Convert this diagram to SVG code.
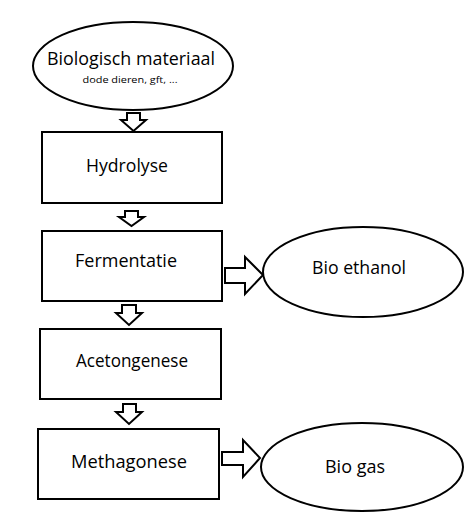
<svg xmlns="http://www.w3.org/2000/svg" width="475" height="519" viewBox="0 0 475 519">
<style>
.box{fill:#fff;stroke:#000;stroke-width:2}
.ell{fill:#fff;stroke:#000;stroke-width:2}
.arr{fill:#fff;stroke:#000;stroke-width:2;stroke-linejoin:miter}
text{font-family:"Open Sans","Liberation Sans",sans-serif;fill:#000}
.t{font-size:17.5px}
.s{font-size:9.5px}
</style>
<rect width="475" height="519" fill="#fff"/>
<g id="connectors">
<polygon class="arr" points="127,113 140,113 140,120 146,120 133.5,131 121,120 127,120"/>
<polygon class="arr" points="125,211 138,211 138,217 144,217 131.5,226 119,217 125,217"/>
<polygon class="arr" points="122,305 136,305 136,313 142,313 129,325 116,313 122,313"/>
<polygon class="arr" points="123,404 136,404 136,412 142,412 129,424 116,412 123,412"/>
<polygon class="arr" points="225,268 245,268 245,257 263,275 245,294 245,283 225,283"/>
<polygon class="arr" points="222,452 243,452 243,440 260,458 243,477 243,465 222,465"/>
</g>
<g id="n-bio">
<ellipse class="ell" cx="133" cy="66" rx="100" ry="44"/>
<text class="t" x="131" y="65" text-anchor="middle" textLength="168" lengthAdjust="spacingAndGlyphs">Biologisch materiaal</text>
<text class="s" x="130" y="83" text-anchor="middle" textLength="95" lengthAdjust="spacingAndGlyphs">dode dieren, gft, ...</text>
</g>
<g id="n-hydrolyse">
<rect class="box" x="42" y="132" width="180" height="71"/>
<text class="t" x="127" y="172" text-anchor="middle" textLength="82" lengthAdjust="spacingAndGlyphs">Hydrolyse</text>
</g>
<g id="n-fermentatie">
<rect class="box" x="42" y="231" width="180" height="70"/>
<text class="t" x="126" y="267" text-anchor="middle" textLength="102" lengthAdjust="spacingAndGlyphs">Fermentatie</text>
</g>
<g id="n-acetongenese">
<rect class="box" x="40" y="329" width="181" height="70"/>
<text class="t" x="132" y="367" text-anchor="middle" textLength="112" lengthAdjust="spacingAndGlyphs">Acetongenese</text>
</g>
<g id="n-methagonese">
<rect class="box" x="38" y="429" width="181" height="70"/>
<text class="t" x="129" y="468" text-anchor="middle" textLength="116" lengthAdjust="spacingAndGlyphs">Methagonese</text>
</g>
<g id="n-ethanol">
<ellipse class="ell" cx="363" cy="272" rx="100" ry="45"/>
<text class="t" x="359" y="274" text-anchor="middle" textLength="94" lengthAdjust="spacingAndGlyphs">Bio ethanol</text>
</g>
<g id="n-gas">
<ellipse class="ell" cx="362" cy="467" rx="101" ry="44"/>
<text class="t" x="355" y="473" text-anchor="middle" textLength="60" lengthAdjust="spacingAndGlyphs">Bio gas</text>
</g>
</svg>
